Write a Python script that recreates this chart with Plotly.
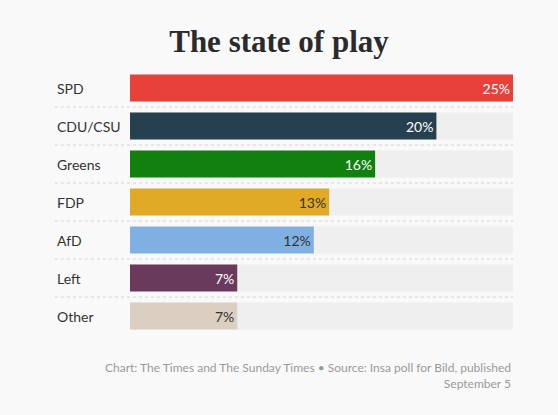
import plotly.graph_objects as go

# Poll figures
parties = ["SPD", "CDU/CSU", "Greens", "FDP", "AfD", "Left", "Other"]
shares = [25, 20, 16, 13, 12, 7, 7]
colors = ["#e8413a", "#26404f", "#12800f", "#e0aa27", "#80b0e2", "#6a3a5d", "#dbcfc2"]
label_colors = ["#ffffff", "#ffffff", "#ffffff", "#333333", "#333333", "#ffffff", "#333333"]
track_max = 25

fig = go.Figure()

# grey background tracks
fig.add_trace(go.Bar(
    y=parties, x=[track_max] * len(parties), orientation="h",
    marker=dict(color="#efefef", line=dict(width=0)),
    width=0.71, hoverinfo="skip", showlegend=False,
))

# the actual bars
fig.add_trace(go.Bar(
    y=parties, x=shares, orientation="h",
    marker=dict(color=colors, line=dict(width=0)),
    width=0.71,
    text=[f"{v}%" for v in shares],
    textposition="inside", insidetextanchor="end",
    textfont=dict(family="Lato", size=14, color=label_colors),
    constraintext="none",
    showlegend=False,
))

# dotted separators between rows
for i in range(len(parties) - 1):
    fig.add_shape(type="line", xref="paper", yref="y",
                  x0=-0.196, x1=1, y0=i + 0.5, y1=i + 0.5,
                  line=dict(color="#d2d2d2", width=1, dash="dot"))

# party names on the left
for p in parties:
    fig.add_annotation(x=-0.196, y=p, xref="paper", yref="y", text=p,
                       showarrow=False, xanchor="left",
                       font=dict(family="Lato", size=14, color="#333333"))

fig.add_annotation(
    x=1, y=-0.085, xref="paper", yref="paper", xanchor="right", yanchor="top",
    align="right", showarrow=False,
    text="Chart: The Times and The Sunday Times • Source: Insa poll for Bild, published<br>September 5",
    font=dict(family="Lato", size=12, color="#9a9a9a"),
)

fig.update_layout(
    width=558, height=415,
    barmode="overlay",
    title=dict(text="<b>The state of play</b>", x=0.5, xanchor="center",
               y=0.902, yanchor="middle",
               font=dict(family="Liberation Serif", size=31, color="#2b2b2b")),
    margin=dict(l=130, r=45, t=69, b=80),
    paper_bgcolor="#f9f9f9", plot_bgcolor="#f9f9f9",
    xaxis=dict(range=[0, track_max], visible=False, fixedrange=True),
    yaxis=dict(autorange="reversed", visible=False, fixedrange=True),
)

# drop the default page margin so the figure fills the window
fig.write_html(
    "out.html",
    config={"displayModeBar": False},
    post_script="document.body.style.margin='0';document.body.style.background='#f9f9f9';",
)
